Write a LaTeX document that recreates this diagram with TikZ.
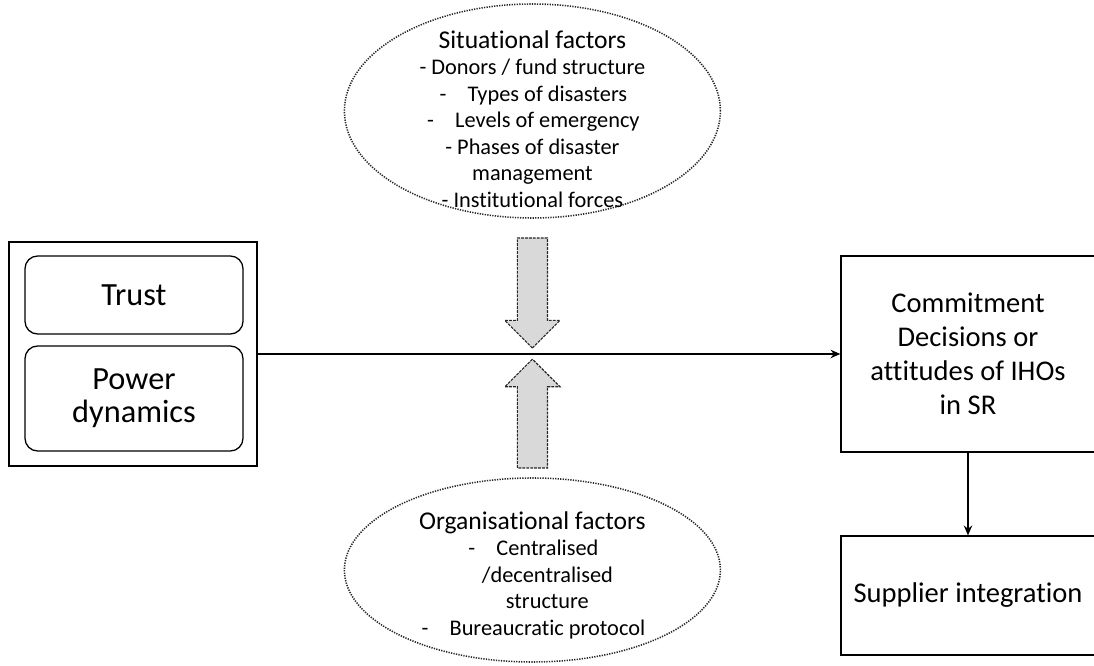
\documentclass[tikz,border=0pt]{standalone}
\usepackage{fontspec}
\setmainfont{Carlito}[Ligatures=NoCommon]
\usetikzlibrary{shapes.geometric, shapes.arrows, arrows.meta}

\begin{document}
\begin{tikzpicture}[
  box/.style={rectangle, draw=black, line width=0.9pt,
              align=center, inner sep=0pt},
  inner/.style={box, rounded corners=9pt, minimum width=5.45cm,
                font=\fontsize{23}{23.5}\selectfont},
  outcome/.style={box, minimum width=6.35cm,
                  font=\fontsize{20.3}{24.2}\selectfont},
  factor/.style={ellipse, draw=black!85, line width=1.1pt,
                 dash pattern=on 0.9pt off 0.9pt,
                 minimum width=9.4cm, inner sep=0pt},
  factxt/.style={align=center, font=\fontsize{15.9}{18.85}\selectfont},
  push/.style={single arrow, draw=black!85, fill=black!15,
               line width=0.8pt, dash pattern=on 2pt off 0.8pt,
               inner xsep=0pt, inner ysep=0.3625cm, outer sep=0pt,
               single arrow head extend=0.3125cm, anchor=tail},
  arrow/.style={-{Stealth[length=7pt,width=6pt]}, line width=0.9pt},
]

%% ── Page ──────────────────────────────────────────────
\clip (0,0) rectangle (27.35,16.65);
\fill[white] (0,0) rectangle (27.35,16.65);

%% ── Helpers for the hanging dashes ───────────────────
\def\shiftline{\hspace*{0.75cm}}
\def\dashline{\hspace*{0.75cm}\llap{-\hspace{0.53cm}}}

%% ── Column positions ──────────────────────────────────
\def\lx{3.325}  % left column x
\def\mx{13.31}  % middle column x
\def\rx{24.2}   % right column x

%% ── Left: relationship factors ────────────────────────
\node[box, minimum width=6.2cm, minimum height=5.6cm] (rel) at (\lx, 7.8) {};
\node[inner, minimum height=1.95cm]  (trust) at (3.35, 9.275) {Trust};
\node[inner, minimum height=2.625cm] (power) at (3.35, 6.6875) {Power\\dynamics};

%% ── Right: outcomes ───────────────────────────────────
\node[outcome, minimum height=4.9cm] (commit) at (\rx, 7.8)
  {Commitment\\Decisions or\\attitudes of IHOs\\in SR};
\node[outcome, minimum height=2.975cm] (supint) at (\rx, 1.7625)
  {Supplier integration};

%% ── Middle: moderating factors ────────────────────────
\node[factor, minimum height=5.35cm] (sitfac) at (\mx, 13.875) {};
\node[factxt] (sittxt) at (\mx, 13.675)
  {{\fontsize{18.2}{18.85}\selectfont Situational factors}\\
   - Donors / fund structure\\
   \dashline Types of disasters\\
   \dashline Levels of emergency\\
   - Phases of disaster\\
   management\\
   - Institutional forces};

\node[factor, minimum height=4.6cm] (orgfac) at (\mx, 2.4) {};
\node[factxt] (orgtxt) at (\mx, 2.275)
  {{\fontsize{18.2}{18.85}\selectfont Organisational factors}\\
   \dashline Centralised\\
   \shiftline /decentralised\\
   \shiftline structure\\
   \dashline Bureaucratic protocol};

%% ── Block arrows onto the main path ───────────────────
\node[push, rotate=-90, minimum height=2.75cm] (sitpush) at (\mx, 10.7) {};
\node[push, rotate=90,  minimum height=2.72cm] (orgpush) at (\mx, 4.95) {};

%% ── Connectors ────────────────────────────────────────
\draw[arrow] (rel.east)     -- (commit.west);
\draw[arrow] (commit.south) -- (supint.north);

\end{tikzpicture}
\end{document}
